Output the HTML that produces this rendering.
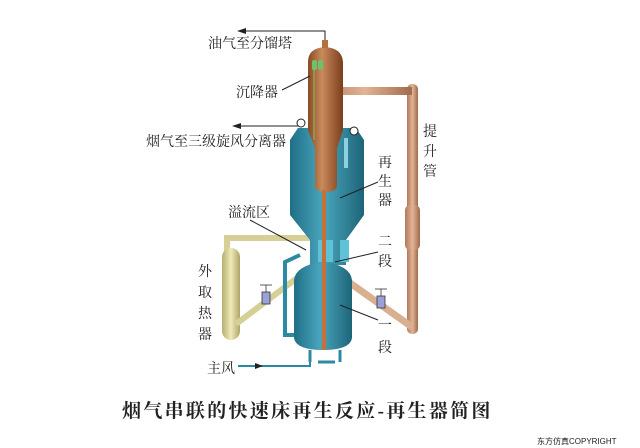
<!DOCTYPE html>
<html><head><meta charset="utf-8"><style>
html,body{margin:0;padding:0;background:#fff;}
svg{display:block}
text{font-family:"Liberation Serif","Noto Serif CJK SC",serif;fill:#222;}
</style></head><body>
<svg width="640" height="448" viewBox="0 0 640 448" xmlns="http://www.w3.org/2000/svg">
<defs>
<linearGradient id="cu" x1="0" x2="1"><stop offset="0" stop-color="#8a4a22"/><stop offset=".4" stop-color="#c98a5c"/><stop offset="1" stop-color="#7a3e1c"/></linearGradient>
<linearGradient id="bl" x1="0" x2="1"><stop offset="0" stop-color="#1f6f86"/><stop offset=".45" stop-color="#4aa6bd"/><stop offset="1" stop-color="#1d6478"/></linearGradient>
<linearGradient id="rs" x1="0" x2="1"><stop offset="0" stop-color="#b07a5a"/><stop offset=".5" stop-color="#e2b396"/><stop offset="1" stop-color="#a06a4c"/></linearGradient>
<linearGradient id="yl" x1="0" x2="1"><stop offset="0" stop-color="#b6ae72"/><stop offset=".5" stop-color="#f0eab8"/><stop offset="1" stop-color="#aea468"/></linearGradient>
</defs>
<rect x="407" y="84" width="11" height="250" rx="5" fill="url(#rs)"/>
<rect x="405" y="205" width="15" height="45" rx="5" fill="url(#rs)"/>
<rect x="318" y="87" width="94" height="8" fill="url(#rs)"/>
<line x1="350" y1="283" x2="412" y2="327" stroke="#d8b090" stroke-width="7"/>
<path d="M227 252 V238 H332" stroke="#d6cf96" stroke-width="6" fill="none"/>
<rect x="222" y="248" width="18" height="92" rx="9" fill="url(#yl)"/>
<line x1="236" y1="324" x2="305" y2="272" stroke="#d6cf96" stroke-width="6"/>
<path d="M300 255 L285 262 V335 L298 335" stroke="#2d8aa4" stroke-width="4" fill="none"/>
<path d="M290 140 L298 128 H356 L364 140 V215 L346 240 V265 H310 V240 L290 215 Z" fill="url(#bl)"/>
<rect x="318" y="240" width="15" height="22" fill="#5fc3d8"/>
<rect x="340" y="240" width="9" height="22" fill="#5fc3d8"/>
<path d="M294 280 Q296 265 323 262 Q350 265 352 280 V338 Q350 350 323 350 Q296 350 294 338 Z" fill="url(#bl)"/>
<path d="M310 350 V362 M340 350 V362 M318 362 H335" stroke="#2d8aa4" stroke-width="3" fill="none"/>
<path d="M238 366 H310 V352" stroke="#2d8aa4" stroke-width="2" fill="none"/>
<polygon points="255,363 263,366 255,369" fill="#222"/>
<path d="M308 62 Q308 48 325 47 Q342 48 343 62 V130 L337 148 V185 Q337 192 326 192 Q315 192 315 185 V148 L308 130 Z" fill="url(#cu)"/>
<rect x="322" y="40" width="6" height="8" fill="#b86e40"/>
<rect x="322" y="190" width="4" height="160" fill="#c8703a"/>
<rect x="312" y="60" width="5" height="10" rx="2" fill="#6fc06a"/>
<rect x="318" y="60" width="5" height="10" rx="2" fill="#6fc06a"/>
<line x1="314" y1="68" x2="314" y2="140" stroke="#7fbf6a" stroke-width="1"/>
<rect x="344" y="138" width="4" height="30" fill="#8fd0e0"/>
<g fill="#9aa0d8" stroke="#333" stroke-width=".8"><rect x="262" y="292" width="8" height="12"/><line x1="260" y1="285" x2="272" y2="285"/><line x1="266" y1="285" x2="266" y2="292"/></g>
<g fill="#9aa0d8" stroke="#333" stroke-width=".8"><rect x="377" y="296" width="8" height="12"/><line x1="375" y1="289" x2="387" y2="289"/><line x1="381" y1="289" x2="381" y2="296"/></g>
<path d="M325 40 V31 H242" stroke="#222" stroke-width="1" fill="none"/>
<polygon points="237,31 246,28 246,34" fill="#222"/>
<path d="M300 126 H238" stroke="#222" stroke-width="1"/>
<polygon points="232,126 241,123 241,129" fill="#222"/>
<circle cx="301" cy="123" r="4" fill="#fff" stroke="#222"/>
<circle cx="354" cy="131" r="4" fill="#fff" stroke="#222"/>
<g stroke="#222" stroke-width="1">
<line x1="282" y1="90" x2="310" y2="76"/>
<line x1="378" y1="182" x2="340" y2="198"/>
<line x1="250" y1="220" x2="306" y2="250"/>
<line x1="378" y1="252" x2="335" y2="262"/>
<line x1="378" y1="320" x2="340" y2="305"/>
</g>
<g font-size="14">
<text x="208" y="48">油气至分馏塔</text>
<text x="236" y="97">沉降器</text>
<text x="146" y="146">烟气至三级旋风分离器</text>
<text x="228" y="217">溢流区</text>
<text x="207" y="373">主风</text>
<text x="423" y="136">提</text><text x="423" y="156">升</text><text x="423" y="176">管</text>
<text x="378" y="167">再</text><text x="378" y="186">生</text><text x="378" y="205">器</text>
<text x="378" y="246">二</text><text x="378" y="266">段</text>
<text x="198" y="276">外</text><text x="198" y="297">取</text><text x="198" y="318">热</text><text x="198" y="339">器</text>
<text x="378" y="330">一</text><text x="378" y="352">段</text>
</g>
<text x="122" y="417" font-size="19" font-weight="bold" letter-spacing="2.3">烟气串联的快速床再生反应-再生器简图</text>
<text x="537" y="444" font-size="8" style="font-family:'Liberation Sans','Noto Sans CJK SC',sans-serif">东方仿真COPYRIGHT</text>
</svg>
</body></html>
